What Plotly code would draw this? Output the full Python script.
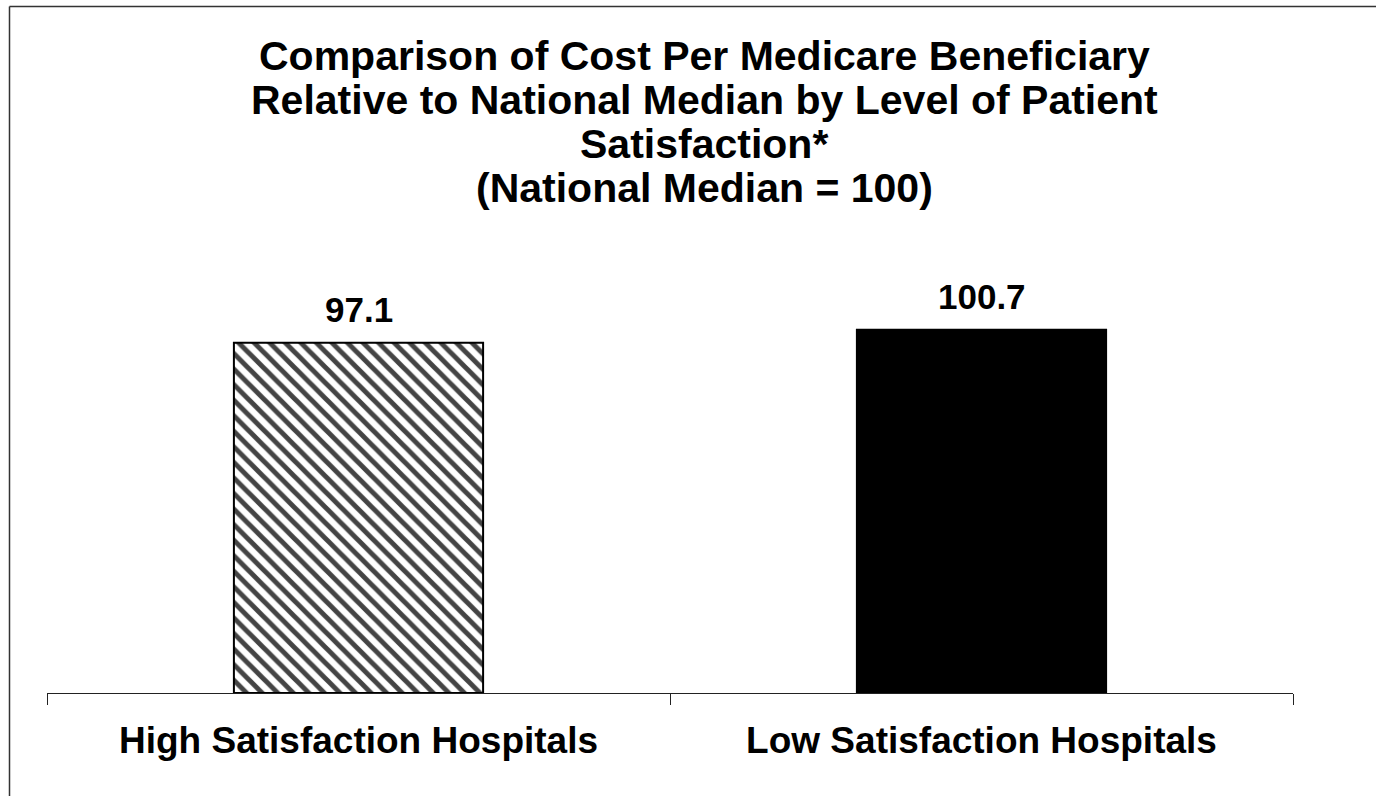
import plotly.graph_objects as go

categories = ["High Satisfaction Hospitals", "Low Satisfaction Hospitals"]
values = [97.1, 100.7]
value_labels = ["97.1", "100.7"]
title_lines = [
    "Comparison of Cost Per Medicare Beneficiary",
    "Relative to National Median by Level of Patient",
    "Satisfaction*",
    "(National Median = 100)",
]

W, H = 1376, 796
L, R, T, B = 47, 83, 260, 103
PW, PH = W - L - R, H - T - B


def px_x(px):
    return (px - L) / PW


def px_y(py):
    return (H - B - py) / PH


FONT = "Liberation Sans, Arial, sans-serif"

fig = go.Figure()
fig.add_trace(go.Bar(
    x=categories,
    y=values,
    width=0.4,
    marker=dict(
        color=["white", "black"],
        line=dict(color="black", width=2),
        pattern=dict(shape=["\\", ""], fgcolor=["black", "black"],
                     fillmode="overlay", fgopacity=1,
                     size=11, solidity=0.45),
    ),
    hoverinfo="skip",
))

annotations = []
for c, v, t in zip(categories, values, value_labels):
    annotations.append(dict(
        x=c, y=v, xref="x", yref="y", text=f"<b>{t}</b>", showarrow=False,
        yanchor="bottom", yshift=12,
        font=dict(family=FONT, size=35, color="black"),
    ))

title_centers = [56, 100, 144, 188]
for line, cy in zip(title_lines, title_centers):
    annotations.append(dict(
        x=px_x(704), y=px_y(cy), xref="paper", yref="paper",
        text=f"<b>{line}</b>", showarrow=False,
        xanchor="center", yanchor="middle",
        font=dict(family=FONT, size=41, color="black"),
    ))

shapes = [
    dict(type="line", xref="paper", yref="paper",
         x0=px_x(9.5), x1=px_x(1400), y0=px_y(6.5), y1=px_y(6.5),
         line=dict(color="#333333", width=1.5)),
    dict(type="line", xref="paper", yref="paper",
         x0=px_x(9.5), x1=px_x(9.5), y0=px_y(6.5), y1=px_y(820),
         line=dict(color="#333333", width=1.5)),
]

fig.update_layout(
    width=W, height=H,
    margin=dict(l=L, r=R, t=T, b=B, pad=0),
    paper_bgcolor="white", plot_bgcolor="white",
    showlegend=False,
    annotations=annotations,
    shapes=shapes,
    font=dict(family=FONT, color="black"),
    xaxis=dict(
        type="category",
        showline=True, linecolor="#222222", linewidth=1,
        ticks="outside", tickson="boundaries", ticklen=11,
        tickcolor="#222222", tickwidth=1,
        showgrid=False, zeroline=False,
        ticklabelstandoff=15,
        tickfont=dict(family=FONT, size=37, color="black"),
        tickvals=categories,
        ticktext=[f"<b>{c}</b>" for c in categories],
    ),
    yaxis=dict(range=[0, 120], visible=False, showgrid=False, zeroline=False),
)

fig.write_html("out.html", config=dict(displayModeBar=False))
